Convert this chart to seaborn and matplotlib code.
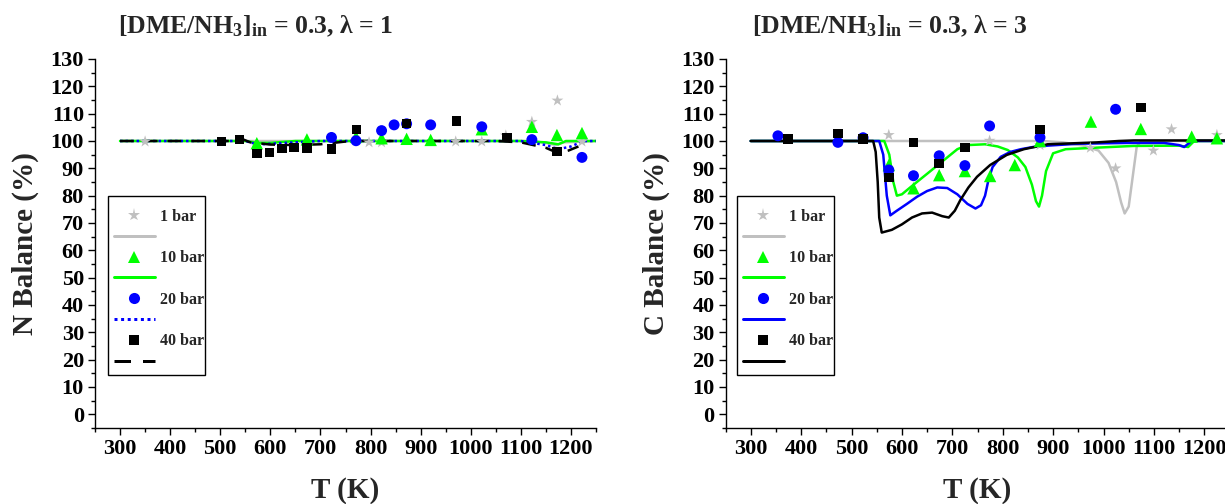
import matplotlib
matplotlib.use("Agg")
import matplotlib.pyplot as plt
from matplotlib.lines import Line2D
from matplotlib.patches import Rectangle
from matplotlib.ticker import MultipleLocator
import seaborn as sns

# ---------------- data ----------------
# Left panel: N balance, lambda = 1
n_star_T = [350, 797, 822, 970, 1022, 1070, 1122, 1173, 1222]
n_star_v = [99.8, 99.5, 99.5, 99.8, 99.8, 102.0, 107.0, 114.8, 99.8]
n_tri_T = [573, 673, 771, 822, 872, 920, 1022, 1122, 1172, 1222]
n_tri_v = [99.2, 100.6, 101.5, 101.0, 100.8, 100.4, 104.3, 105.2, 102.2, 102.9]
n_circ_T = [722, 771, 822, 847, 872, 920, 1022, 1122, 1222]
n_circ_v = [101.3, 100.1, 103.8, 105.9, 106.3, 105.9, 105.2, 100.5, 94.0]
n_sq_T = [502, 538, 573, 598, 623, 647, 673, 722, 772, 872, 972, 1072, 1172]
n_sq_v = [99.8, 100.6, 95.5, 95.8, 97.3, 97.6, 97.5, 97.0, 104.3, 106.5, 107.3, 101.3, 96.1]

n_line1_T = [300, 1120, 1150, 1170, 1185, 1250]
n_line1_v = [100, 100, 99.3, 98.5, 99.5, 100]
n_line10_T = [300, 550, 575, 600, 650, 1100, 1150, 1175, 1190, 1250]
n_line10_v = [100, 100, 99.3, 99.3, 100, 100, 99.5, 98.8, 100, 100]
n_line20_T = [300, 550, 575, 600, 700, 1100, 1150, 1175, 1200, 1225, 1250]
n_line20_v = [100, 100, 98.7, 99.0, 100, 100, 98.5, 97.0, 98.0, 100, 100]
n_line40_T = [300, 520, 540, 560, 600, 650, 700, 760, 1050, 1100, 1150, 1175, 1195, 1215]
n_line40_v = [100, 100, 101, 99.5, 98.7, 98.5, 98.8, 100, 100, 99.5, 97.5, 95.5, 96.5, 98]

# Right panel: C balance, lambda = 3
c_star_T = [574, 774, 874, 974, 1024, 1099, 1135, 1225]
c_star_v = [102.2, 100.1, 98.5, 97.5, 90.0, 96.5, 104.3, 102.2]
c_tri_T = [574, 623, 674, 725, 775, 824, 874, 975, 1074, 1175, 1225]
c_tri_v = [91.2, 82.7, 87.5, 89.0, 87.2, 91.2, 100.0, 107.1, 104.4, 101.6, 101.0]
c_circ_T = [354, 473, 523, 574, 623, 674, 725, 774, 874, 1024]
c_circ_v = [101.9, 99.5, 101.2, 89.4, 87.3, 94.6, 91.0, 105.5, 101.3, 111.6]
c_sq_T = [374, 473, 523, 574, 623, 674, 725, 874, 1074]
c_sq_v = [100.7, 102.8, 100.8, 86.6, 99.4, 91.8, 97.7, 104.3, 112.2]

c_line1_T = [300, 880, 920, 960, 990, 1010, 1025, 1035, 1042, 1050, 1058, 1066, 1075, 1250]
c_line1_v = [100, 100, 99.5, 98.3, 96.5, 92, 85, 77.5, 73.5, 76, 87, 98, 100, 100]
c_line10_T = [300, 565, 575, 583, 590, 600, 623, 650, 680, 710, 730, 765, 790, 810, 830,
              845, 858, 866, 872, 878, 886, 900, 925, 990, 1060, 1150, 1168, 1180, 1250]
c_line10_v = [100, 100, 95, 85, 80, 80.5, 84, 88, 92.5, 97, 98.5, 98.8, 98, 96.7, 94,
              90.5, 84, 78, 76, 80, 89, 95.5, 97, 97.6, 98.2, 98.3, 97.8, 100, 100]
c_line20_T = [300, 555, 563, 570, 577, 590, 610, 630, 650, 670, 690, 710, 730, 746, 757,
              765, 772, 780, 796, 815, 836, 860, 889, 950, 1050, 1120, 1150, 1160, 1175, 1250]
c_line20_v = [100, 100, 95, 80, 72.8, 74.5, 77, 79.6, 81.7, 83, 82.8, 80.5, 77, 75.3, 76.5,
              80, 86, 90.5, 94.2, 96, 97, 97.8, 98.3, 99, 99.3, 99.3, 98.5, 97.8, 100, 100]
c_line40_T = [300, 543, 548, 552, 555, 560, 580, 600, 620, 640, 660, 680, 693, 705, 716,
              732, 749, 775, 808, 842, 889, 987, 1030, 1060, 1250]
c_line40_v = [100, 100, 96, 85, 72, 66.5, 67.5, 69.5, 72, 73.5, 73.8, 72.5, 72, 74.5, 78.4,
              83, 86.9, 91.2, 94.9, 97, 98.8, 99.5, 100, 100.2, 100.2]

labels = ["1 bar", "10 bar", "20 bar", "40 bar"]
x_ticks = [300, 400, 500, 600, 700, 800, 900, 1000, 1100, 1200]
y_ticks = list(range(0, 131, 10))

# ---------------- style ----------------
sns.set_theme(style="ticks")
plt.rcParams.update({
    "font.family": ["Liberation Serif", "DejaVu Serif"],
    "font.weight": "bold",
    "axes.labelweight": "bold",
    "mathtext.fontset": "custom",
    "mathtext.rm": "Liberation Serif:bold",
    "mathtext.bf": "Liberation Serif:bold",
    "mathtext.it": "Liberation Serif:italic:bold",
    "axes.linewidth": 1.0,
    "axes.edgecolor": "black",
    "xtick.color": "black",
    "ytick.color": "black",
})

GRAY, GREEN, BLUE, BLACK = "#c0c0c0", "#00ff00", "#0000ff", "#000000"
LW = 1.8

fig = plt.figure(figsize=(12.25, 5.04), dpi=100)
ax1 = fig.add_axes([95 / 1225, 1 - 428 / 504, 501 / 1225, 369 / 504])
ax2 = fig.add_axes([725.5 / 1225, 1 - 428 / 504, 504 / 1225, 369 / 504])


def draw_panel(ax, lines, markers, line_styles):
    colors = [GRAY, GREEN, BLUE, BLACK]
    for (T, v), c, ls in zip(lines, colors, line_styles):
        sns.lineplot(x=T, y=v, ax=ax, color=c, linewidth=LW, sort=False, zorder=2)
        ax.lines[-1].set_linestyle(ls)
    mk = [("*", 80), ("^", 80), ("o", 62), ("s", 46)]
    for (T, v), c, (m, s) in zip(markers, colors, mk):
        sns.scatterplot(x=T, y=v, ax=ax, color=c, marker=m, s=s, edgecolor="none",
                        linewidth=0, zorder=3)


def style_axes(ax, ylabel):
    ax.set_xlim(250, 1250)
    ax.set_ylim(-5, 130)
    ax.set_xticks(x_ticks)
    ax.set_yticks(y_ticks)
    ax.xaxis.set_minor_locator(MultipleLocator(50))
    ax.yaxis.set_minor_locator(MultipleLocator(5))
    ax.tick_params(which="major", direction="out", length=5, width=1.0,
                   labelsize=16, pad=3)
    ax.tick_params(which="minor", direction="out", length=3, width=1.0)
    for lab in ax.get_xticklabels() + ax.get_yticklabels():
        lab.set_fontweight("bold")
    sns.despine(ax=ax)
    ax.set_xlabel("T (K)", fontsize=21, fontweight="bold", labelpad=13)
    ax.set_ylabel(ylabel, fontsize=21, fontweight="bold", labelpad=8)


def add_legend(ax, line_styles, x0, w):
    # frame box (drawn separately so its padding can differ horizontally/vertically)
    ax.add_patch(Rectangle((x0, 0.1436), w, 0.6287 - 0.1436, transform=ax.transAxes,
                           facecolor="white", edgecolor="black", linewidth=1.0,
                           zorder=4, clip_on=False))
    colors = [GRAY, GREEN, BLUE, BLACK]
    mks = [("*", 9.5), ("^", 9), ("o", 8), ("s", 7)]
    handles, labs = [], []
    for c, (m, ms), ls, lab in zip(colors, mks, line_styles, labels):
        handles.append(Line2D([], [], color=c, marker=m, markersize=ms,
                              markeredgewidth=0, linestyle="None"))
        labs.append(lab)
        handles.append(Line2D([], [], color=c, linewidth=LW * 1.2, linestyle=ls))
        labs.append(" ")
    leg = ax.legend(handles, labs, loc="upper left", bbox_to_anchor=(x0, 0.6098),
                    borderaxespad=0, frameon=False,
                    handlelength=2.6, handletextpad=0.3, labelspacing=0.3,
                    borderpad=0.35, numpoints=1, prop={"weight": "bold", "size": 11.5})
    leg.set_zorder(5)


left_styles = ["-", "-", (0, (1, 1.2)), (0, (5.5, 4))]
right_styles = ["-", "-", "-", "-"]

draw_panel(ax1,
           [(n_line1_T, n_line1_v), (n_line10_T, n_line10_v),
            (n_line20_T, n_line20_v), (n_line40_T, n_line40_v)],
           [(n_star_T, n_star_v), (n_tri_T, n_tri_v),
            (n_circ_T, n_circ_v), (n_sq_T, n_sq_v)],
           left_styles)
draw_panel(ax2,
           [(c_line1_T, c_line1_v), (c_line10_T, c_line10_v),
            (c_line20_T, c_line20_v), (c_line40_T, c_line40_v)],
           [(c_star_T, c_star_v), (c_tri_T, c_tri_v),
            (c_circ_T, c_circ_v), (c_sq_T, c_sq_v)],
           right_styles)

style_axes(ax1, "N Balance (%)")
style_axes(ax2, "C Balance (%)")
add_legend(ax1, left_styles, 0.026, 0.1936)
add_legend(ax2, right_styles, 0.0228, 0.1925)

fig.text(118 / 1225, 1 - 33 / 504,
         r"[DME/NH$_\mathregular{3}$]$_\mathregular{in}$ = 0.3, λ = 1",
         fontsize=18.5, fontweight="bold", ha="left", va="baseline")
fig.text(752 / 1225, 1 - 33 / 504,
         r"[DME/NH$_\mathregular{3}$]$_\mathregular{in}$ = 0.3, λ = 3",
         fontsize=18.5, fontweight="bold", ha="left", va="baseline")

fig.savefig("out.png", dpi=100)
